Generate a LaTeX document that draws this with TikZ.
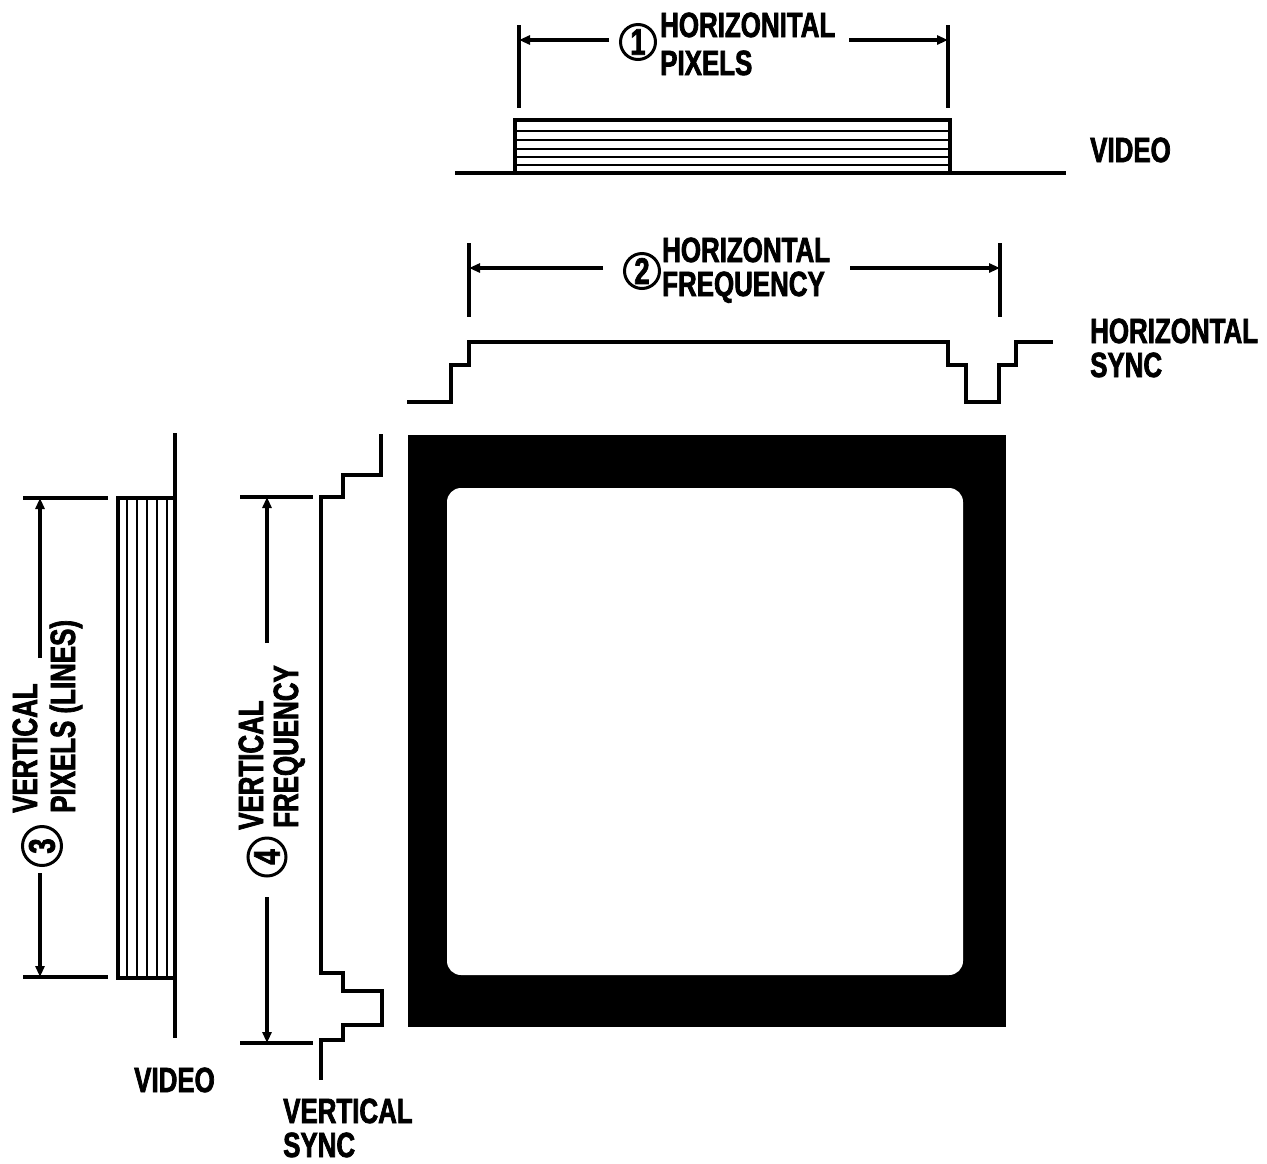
\documentclass[tikz,border=0pt]{standalone}
\usepackage{fontspec}
\setmainfont{Liberation Sans}[FakeStretch=0.74,BoldFeatures={FakeBold=2}]
\usetikzlibrary{arrows.meta}
\begin{document}
\begin{tikzpicture}[x=1pt,y=-1pt,line join=miter,
  sig/.style={line width=3.6pt},
  fine/.style={line width=2.3pt},
  dim/.style={line width=3.2pt},
  dimarrow/.style={line width=3.2pt,-{Triangle[length=11pt,width=9pt]}},
  lbl/.style={font=\bfseries\fontsize{35}{36}\selectfont,inner sep=0pt},
  num/.style={circle,draw,line width=3pt,minimum size=35pt,inner sep=0pt,
    font=\bfseries\fontsize{37}{37}\selectfont}]
\useasboundingbox (0,0) rectangle (1267,1163);

% ---------- top: horizontal video ----------
\draw[sig] (455,173) -- (1066,173);
\draw[line width=4pt] (515,173) -- (515,120) -- (950,120) -- (950,173);
\foreach \yy in {131,140,149,157,165} \draw[fine] (515,\yy) -- (950,\yy);
\coordinate (h1l) at (519,40); \coordinate (h1r) at (948,40);
\draw[dim] (519,25) -- (519,108);
\draw[dim] (948,25) -- (948,108);
\coordinate (h1la) at (609,40); \coordinate (h1ra) at (849,40);
\draw[dimarrow] (h1la) -- (h1l);
\draw[dimarrow] (h1ra) -- (h1r);
\node[num] (n1) at (638,42) {1};
\node[lbl,anchor=base west] (t1a) at (660,37) {HORIZONITAL};
\node[lbl,anchor=base west] (t1b) at (660,75) {PIXELS};
\node[lbl,anchor=base west] (tv1) at (1090,162) {VIDEO};

% ---------- horizontal frequency ----------
\draw[dim] (469,243) -- (469,317);
\draw[dim] (1000,243) -- (1000,317);
\coordinate (h2l) at (469,268); \coordinate (h2r) at (1000,268);
\coordinate (h2la) at (603,268); \coordinate (h2ra) at (850,268);
\draw[dimarrow] (h2la) -- (h2l);
\draw[dimarrow] (h2ra) -- (h2r);
\node[num] (n2) at (642,271) {2};
\node[lbl,anchor=base west] (t2a) at (662,262) {HORIZONTAL};
\node[lbl,anchor=base west] (t2b) at (662,296) {FREQUENCY};
\draw[sig] (407,402) -- (451,402) -- (451,365) -- (469,365) -- (469,342)
  -- (948,342) -- (948,365) -- (966,365) -- (966,402) -- (999,402)
  -- (999,365) -- (1016,365) -- (1016,342) -- (1053,342);
\node[lbl,anchor=base west] (ths1) at (1090,343) {HORIZONTAL};
\node[lbl,anchor=base west] (ths2) at (1090,377) {SYNC};

% ---------- monitor ----------
\fill[black] (408,435) rectangle (1006,1027);
\fill[white,rounded corners=14pt] (447,488) rectangle (963,975);

% ---------- left: vertical video ----------
\draw[sig] (175,433) -- (175,1038);
\draw[line width=4pt] (175,498) -- (118,498) -- (118,978) -- (175,978);
\foreach \xx in {127,137,147,157,167} \draw[fine] (\xx,498) -- (\xx,978);
\draw[dim] (23,498) -- (108,498);
\draw[dim] (23,977) -- (108,977);
\coordinate (v3t) at (40,498); \coordinate (v3b) at (40,977);
\coordinate (v3ta) at (40,658); \coordinate (v3ba) at (40,873);
\draw[dimarrow] (v3ta) -- (v3t);
\draw[dimarrow] (v3ba) -- (v3b);
\node[num,rotate=90,minimum size=39pt] (n3) at (42,846) {3};
\node[lbl,rotate=90,anchor=base west] (t3a) at (37,813) {VERTICAL};
\node[lbl,rotate=90,anchor=base west] (t3b) at (75,813) {PIXELS (LINES)};
\node[lbl,anchor=base west] (tv2) at (134,1092) {VIDEO};

% ---------- vertical sync ----------
\draw[sig] (381,434) -- (381,475) -- (343,475) -- (343,497) -- (321,497)
  -- (321,973) -- (343,973) -- (343,991) -- (382,991) -- (382,1025)
  -- (343,1025) -- (343,1040) -- (321,1040) -- (321,1080);
\draw[dim] (240,497) -- (313,497);
\draw[dim] (240,1043) -- (313,1043);
\coordinate (v4t) at (267,497); \coordinate (v4b) at (267,1043);
\coordinate (v4ta) at (267,643); \coordinate (v4ba) at (267,897);
\draw[dimarrow] (v4ta) -- (v4t);
\draw[dimarrow] (v4ba) -- (v4b);
\node[num,rotate=90,minimum size=38pt] (n4) at (267,857) {4};
\node[lbl,rotate=90,anchor=base west] (t4a) at (263,830) {VERTICAL};
\node[lbl,rotate=90,anchor=base west] (t4b) at (298,828) {FREQUENCY};
\node[lbl,anchor=base west] (tvs1) at (283,1123) {VERTICAL};
\node[lbl,anchor=base west] (tvs2) at (283,1157) {SYNC};
\end{tikzpicture}
\end{document}
